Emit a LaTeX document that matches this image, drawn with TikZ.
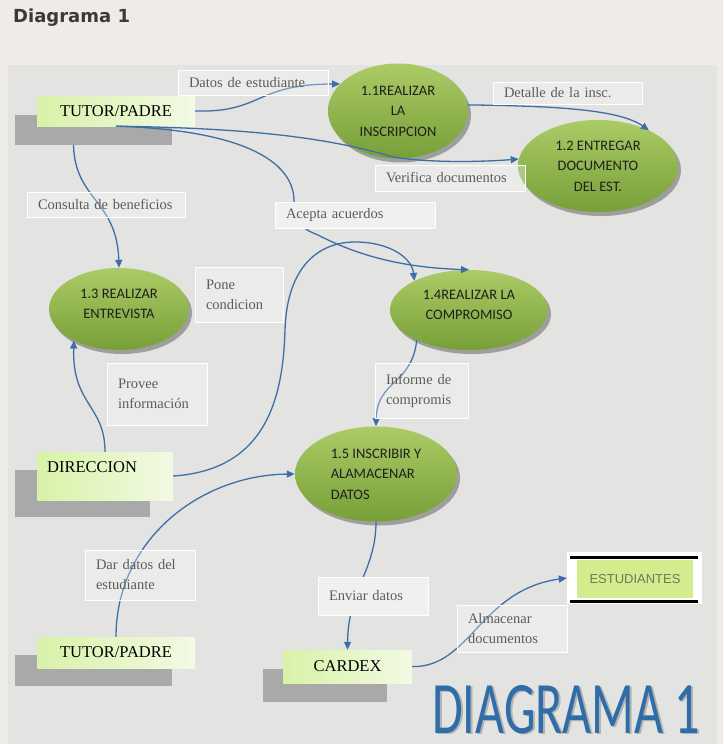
\documentclass[tikz,border=0pt]{standalone}
\usepackage{fontspec}
\setmainfont{Liberation Serif}
\newfontfamily\calfont{Carlito}
\newfontfamily\titfont{DejaVu Sans}
\newfontfamily\arfont{Liberation Sans}
\usetikzlibrary{shapes.geometric,arrows.meta,shadows,calc}
\definecolor{pagebg}{HTML}{EEEBE8}
\definecolor{panelbg}{HTML}{E3E3E1}
\definecolor{procTop}{HTML}{ABCB66}
\definecolor{procBot}{HTML}{779F38}
\definecolor{entL}{HTML}{D8F2A8}
\definecolor{entR}{HTML}{F2FAE4}
\definecolor{entShadow}{HTML}{A9A9A9}
\definecolor{flow}{HTML}{3E6EA8}
\definecolor{lbltext}{HTML}{5C5C5C}
\definecolor{storeFill}{HTML}{D3EC8E}
\definecolor{storeText}{HTML}{6B7A5A}
\definecolor{bigBlue}{HTML}{2F6DA8}
\definecolor{titleGray}{HTML}{3A3A3A}
\begin{document}
\begin{tikzpicture}[x=1pt,y=-1pt,
  proc/.style={ellipse, inner sep=0pt, top color=procTop, bottom color=procBot,
    drop shadow={shadow xshift=3pt, shadow yshift=-4pt, opacity=0.3, fill=black},
    text=black!88, font=\calfont\fontsize{14.5}{20.5}\selectfont, align=center},
  entity/.style={rectangle, inner sep=0pt, left color=entL, right color=entR,
    font=\fontsize{16.5}{18}\selectfont},
  entshadow/.style={rectangle, inner sep=0pt, fill=entShadow},
  lbl/.style={rectangle, draw=white, line width=0.6pt, fill=white, fill opacity=0.3,
    text opacity=1, text=lbltext, font=\fontsize{14.5}{20}\selectfont, align=left,
    inner xsep=11pt, inner ysep=0pt},
  lblsolid/.style={lbl, fill=white!45!panelbg, fill opacity=1},
  flowline/.style={draw=flow, line width=1.3pt, -{Triangle[length=8pt,width=7pt]}},
]
\useasboundingbox (0,0) rectangle (723,744);
\fill[pagebg] (0,0) rectangle (723,744);
\fill[panelbg] (8,65) rectangle (717,744);

\node[anchor=base west, inner sep=0pt, font=\titfont\bfseries\fontsize{18}{20}\selectfont,
  text=titleGray] (title) at (13,23) {Diagrama 1};

% external entities
\node[entshadow, minimum width=157pt, minimum height=30pt] (tp1s) at (93.5,130) {};
\node[entity, minimum width=158pt, minimum height=30pt] (tp1) at (116,111) {TUTOR/PADRE};
\node[entshadow, minimum width=135pt, minimum height=47pt] (dirs) at (82.5,493.5) {};
\node[entity, minimum width=136pt, minimum height=48pt] (dir) at (105,476) {};
\node[anchor=west, inner sep=0pt, font=\fontsize{16.5}{18}\selectfont] (dirt) at (47,467) {DIRECCION};
\node[entshadow, minimum width=157pt, minimum height=31pt] (tp2s) at (93.5,670.5) {};
\node[entity, minimum width=158pt, minimum height=31pt] (tp2) at (116,652.5) {TUTOR/PADRE};
\node[entshadow, minimum width=124pt, minimum height=33pt] (cdxs) at (325,685.5) {};
\node[entity, minimum width=129pt, minimum height=33pt] (cdx) at (347.5,666.5) {CARDEX};

% processes
\node[proc, minimum width=140pt, minimum height=95pt] (p11) at (398,111) {1.1REALIZAR\\LA\\INSCRIPCION};
\node[proc, minimum width=160pt, minimum height=92pt] (p12) at (598,166) {1.2 ENTREGAR\\DOCUMENTO\\DEL EST.};
\node[proc, minimum width=140pt, minimum height=82pt, text depth=10pt] (p13) at (119,309) {1.3 REALIZAR\\ENTREVISTA};
\node[proc, minimum width=158pt, minimum height=80pt, text depth=10pt] (p14) at (469,310) {1.4REALIZAR LA\\COMPROMISO};
\node[proc, minimum width=162pt, minimum height=95pt, align=left] (p15) at (376,474) {1.5 INSCRIBIR Y\\ALAMACENAR\\DATOS};

% data store
\node[rectangle, fill=white, inner sep=0pt, minimum width=135pt, minimum height=52pt] (est) at (634.5,578) {};
\node[rectangle, fill=storeFill, inner sep=0pt, minimum width=116pt, minimum height=38pt,
  font=\arfont\fontsize{13}{15}\selectfont, text=storeText] (esti) at (635,579) {ESTUDIANTES};
\draw[line width=3pt] (570,557) -- (698,557);
\draw[line width=3pt] (570,601) -- (698,601);

% flows
\draw[flowline] (tp1.east) .. controls (262,113) and (255,84) .. (p11.155);
\draw[flowline] (p11.5) .. controls (560,106) and (620,110) .. (p12.35);
\draw[flowline] (tp1.south) .. controls (250,128) and (330,138) .. (393,157) .. controls (430,163) and (480,162) .. (p12.175);
\draw[flowline] (tp1.south) .. controls (240,130) and (293,160) .. (294,200) .. controls (295,222) and (300,228) .. (318,235) .. controls (370,262) and (420,268) .. (p14.north);
\draw[flowline] ($(tp1s.south)+(-20,0)$) .. controls (75,200) and (117,200) .. (p13.north);
\draw[flowline] (dir.north) .. controls (105,405) and (72,405) .. (p13.215);
\draw[flowline] (dir.east) .. controls (265,470) and (283,400) .. (285,330) .. controls (287,265) and (320,242) .. (355,242) .. controls (390,242) and (412,258) .. (p14.152);
\draw[flowline] (tp2.north) .. controls (116,540) and (200,475) .. (p15.west);
\draw[flowline] (p14.210) .. controls (412,385) and (377,380) .. (p15.north);
\draw[flowline] (p15.south) .. controls (376,570) and (348,590) .. (cdx.north);
\draw[flowline] (cdx.east) .. controls (470,668) and (480,590) .. (est.west);

% labels
\node[lbl, minimum width=150pt, minimum height=25pt, text width=128pt] (l1) at (253,82.5) {Datos de estudiante};
\node[lbl, minimum width=149pt, minimum height=22pt, text width=127pt] (l2) at (567.5,93) {Detalle de la insc.};
\node[lbl, minimum width=150pt, minimum height=26pt, text width=128pt] (l3) at (450,178) {Verifica documentos};
\node[lbl, minimum width=158pt, minimum height=25pt, text width=136pt] (l4) at (106,204.5) {Consulta de beneficios};
\node[lblsolid, minimum width=160pt, minimum height=26pt, text width=138pt] (l5) at (355,215) {Acepta acuerdos};
\node[lbl, minimum width=88pt, minimum height=55pt, text width=66pt] (l6) at (239,294.5) {Pone\\condicion};
\node[lbl, minimum width=100pt, minimum height=62pt, text width=78pt] (l7) at (157,394) {Provee\\información};
\node[lbl, minimum width=93pt, minimum height=55pt, text width=71pt] (l8) at (421.5,390.5) {Informe de\\compromis};
\node[lbl, minimum width=110pt, minimum height=50pt, text width=88pt] (l9) at (140,575) {Dar datos del\\estudiante};
\node[lblsolid, minimum width=110pt, minimum height=38pt, text width=88pt] (l10) at (373,596) {Enviar datos};
\node[lbl, minimum width=110pt, minimum height=47pt, text width=88pt] (l11) at (512,628.5) {Almacenar\\documentos};

% big caption
\node[anchor=base west, inner sep=0pt, xscale=0.675, font=\calfont\fontsize{74}{74}\selectfont,
  text=black!45, opacity=0.55] (bigs) at (434,734.5) {DIAGRAMA 1};
\node[anchor=base west, inner sep=0pt, xscale=0.675, font=\calfont\fontsize{74}{74}\selectfont,
  text=bigBlue] (big) at (432,733) {DIAGRAMA 1};
\end{tikzpicture}
\end{document}
